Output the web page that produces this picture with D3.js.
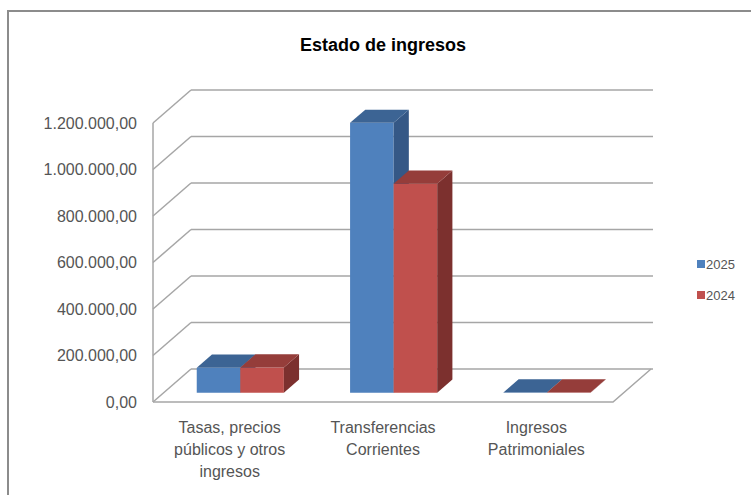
<!DOCTYPE html>
<meta charset="utf-8">
<style>
  body { margin: 0; background: #fff; }
  text { font-family: "Liberation Sans", Arial, sans-serif; fill: #555; }
</style>
<svg width="751" height="495"></svg>
<script src="https://d3js.org/d3.v7.min.js"></script>
<script>
  // Data
  var categories = ["Tasas", "Transferencias", "Ingresos"];
  var categoryLines = [
    ["Tasas, precios", "públicos y otros", "ingresos"],
    ["Transferencias", "Corrientes"],
    ["Ingresos", "Patrimoniales"]
  ];
  var series = ["2025", "2024"];
  var values2025 = [108000, 1161000, 1000];
  var values2024 = [109000, 899000, 1000];
  var yTicks = [0, 200000, 400000, 600000, 800000, 1000000, 1200000];

  var colors = {
    "2025": { front: "#4f81bd", top: "#3c6494", side: "#355886" },
    "2024": { front: "#c0504d", top: "#953d3a", side: "#7c302e" }
  };

  var svg = d3.select("svg");

  // Plot geometry (front plane of the floor + depth offset)
  var left = 153, right = 613, base = 402, topY = 123;
  var depthDx = 38, depthDy = -33;
  var barZ0 = 0.28, barZ1 = 0.68;

  var x0 = d3.scaleBand().domain(categories).range([left, right]);
  var x1 = d3.scaleBand().domain(series).range([0, x0.bandwidth()]).paddingOuter(0.76);
  var y = d3.scaleLinear().domain([0, 1200000]).range([base, topY]);

  // project a point at depth z (0 = front, 1 = back)
  function p(x, yy, z) {
    return [x + z * depthDx, yy + z * depthDy];
  }
  function poly(pts) {
    return pts.map(function(d) { return d.join(","); }).join(" ");
  }

  // Frame
  svg.append("rect")
    .attr("x", 8).attr("y", 11)
    .attr("width", 800).attr("height", 600)
    .attr("fill", "none")
    .attr("stroke", "#8c8c8c")
    .attr("stroke-width", 2);

  // Title
  svg.append("text")
    .attr("x", 383).attr("y", 51)
    .attr("text-anchor", "middle")
    .attr("font-size", 18)
    .attr("font-weight", "bold")
    .style("fill", "#000")
    .text("Estado de ingresos");

  var grid = svg.append("g")
    .attr("stroke", "#a6a6a6")
    .attr("stroke-width", 1.5)
    .attr("fill", "none");

  // back wall gridlines + left wall diagonals
  yTicks.forEach(function(t) {
    var a = p(left, y(t), 0), b = p(left, y(t), 1);
    grid.append("line")
      .attr("x1", a[0]).attr("y1", a[1]).attr("x2", b[0]).attr("y2", b[1]);
    grid.append("line")
      .attr("x1", b[0]).attr("y1", b[1]).attr("x2", right + depthDx + 2).attr("y2", b[1]);
  });

  // vertical axis line
  grid.append("line")
    .attr("x1", left).attr("y1", y(1200000))
    .attr("x2", left).attr("y2", base);

  // floor
  var fr = p(right, base, 1);
  grid.append("polyline")
    .attr("points", poly([[left, base], [right, base], fr]));

  // Bars
  var fmt = d3.formatLocale({ decimal: ",", thousands: ".", grouping: [3], currency: ["", ""] }).format(",.2f");

  var barData = [];
  categories.forEach(function(c, i) {
    barData.push({ cat: c, key: "2025", value: values2025[i] });
    barData.push({ cat: c, key: "2024", value: values2024[i] });
  });

  var bars = svg.append("g")
    .selectAll("g")
    .data(barData)
    .join("g");

  bars.each(function(d) {
    var g = d3.select(this);
    var xl = x0(d.cat) + x1(d.key), xr = xl + x1.bandwidth();
    var yt = y(d.value), yb = y(0);
    var c = colors[d.key];
    // front
    g.append("polygon")
      .attr("points", poly([p(xl, yt, barZ0), p(xr, yt, barZ0), p(xr, yb, barZ0), p(xl, yb, barZ0)]))
      .attr("fill", c.front);
    // side
    g.append("polygon")
      .attr("points", poly([p(xr, yt, barZ0), p(xr, yt, barZ1), p(xr, yb, barZ1), p(xr, yb, barZ0)]))
      .attr("fill", c.side);
    // top
    g.append("polygon")
      .attr("points", poly([p(xl, yt, barZ0), p(xl, yt, barZ1), p(xr, yt, barZ1), p(xr, yt, barZ0)]))
      .attr("fill", c.top);
  });

  // Y tick labels
  svg.append("g")
    .selectAll("text")
    .data(yTicks)
    .join("text")
    .attr("x", 137)
    .attr("y", function(d) { return y(d); })
    .attr("dy", "0.35em")
    .attr("text-anchor", "end")
    .attr("font-size", 16)
    .text(fmt);

  // Category labels
  svg.append("g")
    .selectAll("text")
    .data(categories)
    .join("text")
    .attr("text-anchor", "middle")
    .attr("font-size", 16)
    .attr("transform", function(d) {
      return "translate(" + (x0(d) + x0.bandwidth() / 2) + ",427)";
    })
    .each(function(d, i) {
      d3.select(this).selectAll("tspan")
        .data(categoryLines[i])
        .join("tspan")
        .attr("x", 0)
        .attr("y", function(l, j) { return j * 22; })
        .attr("dy", "0.35em")
        .text(function(l) { return l; });
    });

  // Legend
  var legend = svg.append("g")
    .selectAll("g")
    .data(series)
    .join("g")
    .attr("transform", function(d, i) { return "translate(697," + (264 + i * 31) + ")"; });

  legend.append("rect")
    .attr("x", 0).attr("y", -4)
    .attr("width", 8).attr("height", 8)
    .attr("fill", function(d) { return colors[d].front; });

  legend.append("text")
    .attr("x", 9)
    .attr("dy", "0.35em")
    .attr("font-size", 13)
    .text(function(d) { return d; });
</script>
